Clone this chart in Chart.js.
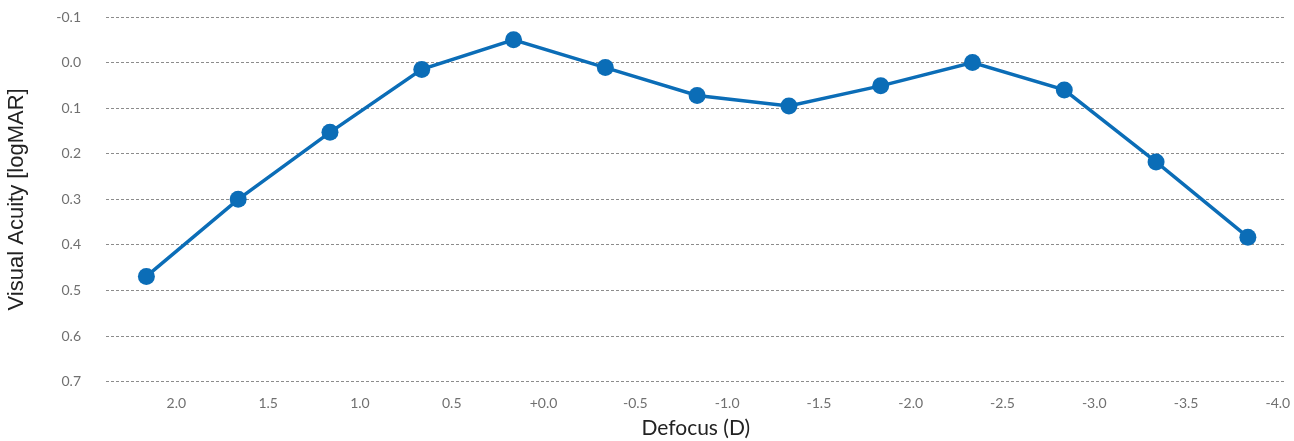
<!DOCTYPE html>
<html>
<head>
<meta charset="utf-8">
<script src="https://cdn.jsdelivr.net/npm/chart.js@4/dist/chart.umd.min.js"></script>
<style>
  html, body { margin: 0; padding: 0; background: #fff; overflow: hidden; }
  #wrap { width: 1294px; height: 441px; position: relative; }
</style>
</head>
<body>
<div id="wrap"><canvas id="grafica"></canvas></div>
<script>
// Datos
const defocus = ["2.0", "1.5", "1.0", "0.5", "+0.0", "-0.5", "-1.0", "-1.5", "-2.0", "-2.5", "-3.0", "-3.5", "-4.0"];
const agudeza = [0.469, 0.300, 0.153, 0.015, -0.050, 0.011, 0.072, 0.095, 0.051, 0.000, 0.060, 0.218, 0.383];
const yTicks = [-0.1, 0.0, 0.1, 0.2, 0.3, 0.4, 0.5, 0.6, 0.7];

const azul = "#0b6db7";
const gris = "#707070";

const puntos = agudeza.map((v, i) => ({ x: i, y: v }));

const ctx = document.getElementById("grafica").getContext("2d");
new Chart(ctx, {
  type: "line",
  data: {
    datasets: [{
      label: "Visual Acuity",
      data: puntos,
      borderColor: azul,
      backgroundColor: azul,
      borderWidth: 3.5,
      pointRadius: 8.5,
      pointBackgroundColor: azul,
      pointBorderWidth: 0,
      tension: 0,
      fill: false
    }]
  },
  options: {
    responsive: true,
    maintainAspectRatio: false,
    animation: false,
    layout: { padding: { top: 17, right: 0, bottom: 0, left: 0 } },
    plugins: {
      legend: { display: false },
      tooltip: { enabled: false }
    },
    scales: {
      x: {
        type: "linear",
        min: -0.44,
        max: 12.41,
        afterBuildTicks: s => { s.ticks = defocus.map((_, i) => ({ value: i })); },
        afterFit: s => {
          s.height = 59.3;
          s.paddingLeft = 0;
          s.paddingRight = 0;
        },
        grid: { display: false },
        border: { display: false },
        ticks: {
          callback: v => defocus[v],
          labelOffset: 30,
          padding: 5,
          color: gris,
          maxRotation: 0,
          autoSkip: false,
          font: { family: "Lato", size: 14 }
        },
        title: {
          display: true,
          text: "Defocus (D)",
          color: "#222",
          padding: { top: 0, bottom: 0 },
          font: { family: "Lato", size: 21 }
        }
      },
      y: {
        reverse: true,
        min: -0.1,
        max: 0.7,
        afterBuildTicks: s => { s.ticks = yTicks.map(v => ({ value: v })); },
        afterFit: s => {
          s.width = 106;
          s.paddingTop = 0;
          s.paddingBottom = 0;
        },
        grid: { color: "#8c8c8c", lineWidth: 1, drawTicks: false },
        border: { display: false, dash: [3, 2] },
        ticks: {
          callback: v => Number(v).toFixed(1),
          padding: 25,
          color: gris,
          font: { family: "Lato", size: 14 }
        },
        title: {
          display: true,
          text: "Visual Acuity [logMAR]",
          color: "#222",
          padding: { top: 4, bottom: 0 },
          font: { family: "Liberation Sans", size: 22 }
        }
      }
    }
  }
});
</script>
</body>
</html>
